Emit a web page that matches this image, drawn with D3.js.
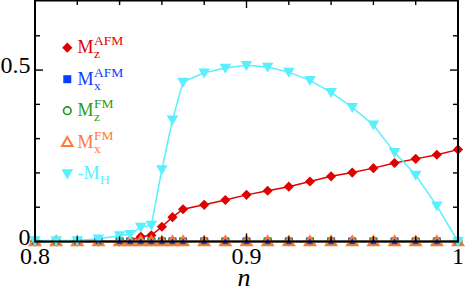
<!DOCTYPE html>
<html><head><meta charset="utf-8">
<script src="https://cdn.jsdelivr.net/npm/d3@7"></script>
<style>body{margin:0;background:#fff}svg{display:block}</style>
</head><body>
<svg id="c" width="465" height="294"></svg>
<script>
const nVals = [0.80,0.81,0.82,0.83,0.84,0.845,0.85,0.855,0.86,0.865,0.87,0.88,0.89,0.90,0.91,0.92,0.93,0.94,0.95,0.96,0.97,0.98,0.99,1.00];
const mzAFM = [0,0,0,0,0,0.003,0.014,0.018,0.043,0.071,0.094,0.107,0.121,0.136,0.148,0.160,0.175,0.190,0.201,0.214,0.229,0.241,0.253,0.268];
const mxAFM = [0,0,0,0,0,0,0,0,0,0,0,0,0,0,0,0,0,0,0,0,0,0,0,0];
const mzFM  = [0,0,0,0,0,0,0,0,0,0,0,0,0,0,0,0,0,0,0,0,0,0,0,0];
const mxFM  = [0,0,0,0,0,0,0,0,0,0,0,0,0,0,0,0,0,0,0,0,0,0,0,0];
const negMH = [0.003,0.003,0.003,0.008,0.017,0.021,0.042,0.048,0.210,0.355,0.465,0.492,0.506,0.514,0.509,0.494,0.470,0.435,0.391,0.340,0.260,0.194,0.104,0.0];
const xTicks = [0.8,0.9,1.0];
const xTickLabels = ["0.8","0.9","1"];
const yTicks = [0,0.5];
const yTickLabels = ["0","0.5"];

const FONT = '"Liberation Serif"';
const svg = d3.select("#c");
const L=35, R=458, T=1.5, B=241.5;
const x = d3.scaleLinear().domain([0.8,1.0]).range([L,R]);
const y = d3.scaleLinear().domain([0,0.7]).range([B,T]);

const C = {red:"#e00000", blue:"#0a3cff", green:"#2a9a1a", orange:"#ff7a3a", cyan:"#58f0ff"};

const series = [
  {vals:mzAFM, color:C.red, type:"diamond", label:["M","z","AFM"]},
  {vals:mxAFM, color:C.blue, type:"square", label:["M","x","AFM"]},
  {vals:mzFM, color:C.green, type:"circle", label:["M","z","FM"]},
  {vals:mxFM, color:C.orange, type:"triUp", label:["M","x","FM"]},
  {vals:negMH, color:C.cyan, type:"triDown", label:["-M","H",""]}
];

function txt(g){ return g.append("text").style("font-family",FONT); }

function drawMarker(g, type, color, cx, cy){
  if(type==="diamond"){
    g.append("path").attr("d", d3.symbol(d3.symbolSquare, 52)()).attr("transform",`translate(${cx},${cy}) rotate(45)`).attr("fill",color);
  } else if(type==="square"){
    g.append("path").attr("d", d3.symbol(d3.symbolSquare, 64)()).attr("transform",`translate(${cx},${cy})`).attr("fill",color);
  } else if(type==="circle"){
    g.append("circle").attr("cx",cx).attr("cy",cy).attr("r",3.8).attr("fill","none").attr("stroke",color).attr("stroke-width",1.7);
  } else if(type==="triUp"){
    g.append("path").attr("d", d3.symbol(d3.symbolTriangle, 48)()).attr("transform",`translate(${cx},${cy+0.8})`).attr("fill","none").attr("stroke",color).attr("stroke-width",2);
  } else if(type==="triDown"){
    g.append("path").attr("d", d3.symbol(d3.symbolTriangle, 58)()).attr("transform",`translate(${cx},${cy-1}) rotate(180)`).attr("fill",color);
  }
}

const line = d3.line().x((d,i)=>x(nVals[i])).y(d=>y(d));
const plot = svg.append("g");
series.forEach(s=>{
  plot.append("path").datum(s.vals).attr("d",line).attr("fill","none").attr("stroke",s.color).attr("stroke-width",1.5);
});
svg.append("line").attr("x1",L).attr("x2",R).attr("y1",y(0)).attr("y2",y(0)).attr("stroke","#000").attr("stroke-width",2);
series.forEach(s=>{
  s.vals.forEach((v,i)=>drawMarker(plot, s.type, s.color, x(nVals[i]), y(v)));
});

const ax = svg.append("g").attr("stroke","#000").attr("fill","none");
ax.append("line").attr("x1",L).attr("x2",L).attr("y1",0).attr("y2",B+1).attr("stroke-width",2);
ax.append("line").attr("x1",R).attr("x2",R).attr("y1",0).attr("y2",B+1).attr("stroke-width",2);
ax.append("line").attr("x1",L).attr("x2",R).attr("y1",0.8).attr("y2",0.8).attr("stroke-width",1.6);

d3.range(0,11).forEach(k=>{
  const v = 0.8 + k*0.02;
  const major = (k%5===0);
  const len = major?8:5;
  const px = x(v);
  ax.append("line").attr("x1",px).attr("x2",px).attr("y1",0).attr("y2",len).attr("stroke-width",1.4);
  ax.append("line").attr("x1",px).attr("x2",px).attr("y1",B).attr("y2",B-len).attr("stroke-width",1.4);
});
d3.range(0,8).forEach(k=>{
  const v = k*0.1;
  if(v>0.7) return;
  const major = (k%5===0);
  const len = major?8:5;
  const py = y(v);
  ax.append("line").attr("x1",L).attr("x2",L+len).attr("y1",py).attr("y2",py).attr("stroke-width",1.4);
  ax.append("line").attr("x1",R).attr("x2",R-len).attr("y1",py).attr("y2",py).attr("stroke-width",1.4);
});

xTicks.forEach((v,i)=>{
  txt(svg).attr("x",x(v)).attr("y",264).attr("text-anchor","middle")
    .attr("font-size",24).attr("fill","#000").text(xTickLabels[i]);
});
yTicks.forEach((v,i)=>{
  txt(svg).attr("x",30.5).attr("y",y(v)+3).attr("text-anchor","end")
    .attr("font-size",24).attr("fill","#000").text(yTickLabels[i]);
});
txt(svg).attr("x",244).attr("y",286).attr("text-anchor","middle")
  .attr("font-size",26).attr("font-style","italic").attr("fill","#000").text("n");

const leg = svg.append("g");
series.forEach((s,i)=>{
  const my = 47.7 + i*31.5;
  drawMarker(leg, s.type, s.color, 67.3, my);
  const base = my + 5.7;
  const t = txt(leg).attr("fill",s.color);
  const m = t.append("tspan").attr("x",77.5).attr("y",base).attr("font-size",18).text(s.label[0]);
  const w = m.node().getComputedTextLength();
  t.append("tspan").attr("x",77.5+w+0.5).attr("y",base+5).attr("font-size",13.5).text(s.label[1]);
  if(s.label[2]) t.append("tspan").attr("x",77.5+w+0.5).attr("y",base-8.3).attr("font-size",13.5).text(s.label[2]);
});
</script>
</body></html>
